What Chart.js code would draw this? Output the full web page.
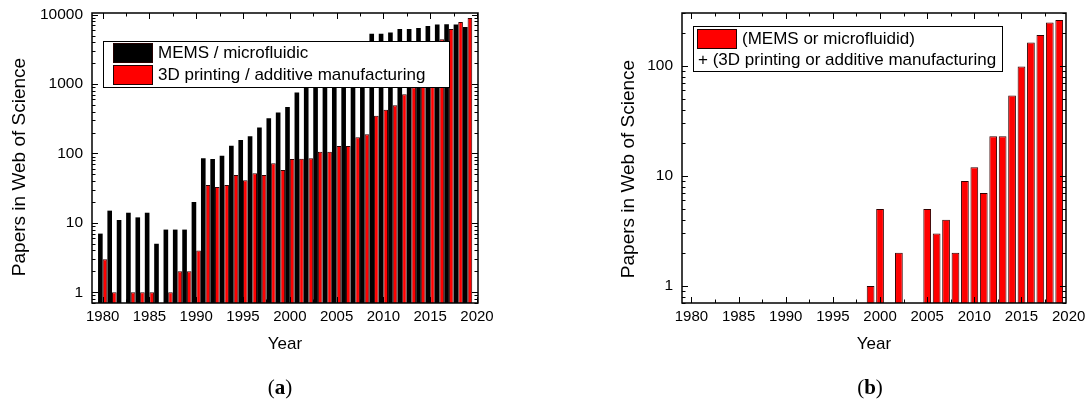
<!DOCTYPE html>
<html><head><meta charset="utf-8">
<script src="https://cdn.jsdelivr.net/npm/chart.js@4.4.1/dist/chart.umd.min.js"></script>
<style>
html,body{margin:0;padding:0;background:#fff;width:1089px;height:405px;overflow:hidden;}
#ca{position:absolute;left:0;top:0;}
#cb{position:absolute;left:545px;top:0;}
.cap{position:absolute;font-family:"Liberation Serif","DejaVu Serif",serif;font-size:21px;color:#000;transform:translateX(-50%);top:375px;line-height:24px;}
</style></head><body>
<canvas id="ca" width="545" height="405"></canvas>
<canvas id="cb" width="544" height="405"></canvas>
<div class="cap" style="left:280px">(<b>a</b>)</div>
<div class="cap" style="left:870px">(<b>b</b>)</div>
<script>
// ---- data ----
const years = [1980,1981,1982,1983,1984,1985,1986,1987,1988,1989,
               1990,1991,1992,1993,1994,1995,1996,1997,1998,1999,
               2000,2001,2002,2003,2004,2005,2006,2007,2008,2009,
               2010,2011,2012,2013,2014,2015,2016,2017,2018,2019];
const memsCounts = [7,15,11,14,12,14,5,8,8,8,
                    20,85,83,93,129,157,177,236,322,388,
                    468,755,1000,1250,1600,2000,2500,3000,3600,5300,
                    5300,5550,6200,6200,6450,6900,7250,7300,7250,6650];
const printCounts = [3,1,null,1,1,1,null,1,2,2,
                     4,35,33,35,49,41,52,49,72,58,
                     83,84,85,106,106,128,128,171,189,351,
                     425,497,716,904,1200,2400,4430,6200,7840,8960];
const bothCounts = [null,null,null,null,null,null,null,null,null,null,
                    null,null,null,null,null,null,null,null,null,1,
                    5,null,2,null,null,5,3,4,2,9,
                    12,7,23,23,54,99,163,191,248,262];
const seriesA = ['MEMS / microfluidic', '3D printing / additive manufacturing'];
const legendB = ['(MEMS or microfluidid)', '+ (3D printing or additive manufacturing'];
const xTickLabels = [1980,1985,1990,1995,2000,2005,2010,2015,2020];
const yTicksA = [1,10,100,1000,10000];
const yTicksB = [1,10,100];
const yTitle = 'Papers in Web of Science';
const xTitle = 'Year';

// ---- styling helpers ----
const FONT = '"Liberation Sans", Arial, sans-serif';
const RED = '#ff0000';

function line(ctx,x1,y1,x2,y2){ctx.beginPath();ctx.moveTo(x1,y1);ctx.lineTo(x2,y2);ctx.stroke();}

// shifts the y-axis box only while the axis (and its title) is painted,
// then restores it before the bars are drawn and clipped
const titleShift = {
  id:'titleShift',
  beforeDraw(chart, args, o){
    const y = chart.scales.y;
    y.top += o.dy; y.bottom += o.dy; chart.$shifted = true;
  },
  beforeDatasetsDraw(chart, args, o){
    if (chart.$shifted){
      const y = chart.scales.y;
      y.top -= o.dy; y.bottom -= o.dy; chart.$shifted = false;
    }
  }
};

const frameTicks = {
  id:'frameTicks',
  afterDatasetsDraw(chart){
    const {ctx, chartArea:{left,right,top,bottom}, scales:{x,y}} = chart;
    ctx.save();
    ctx.strokeStyle='#000'; ctx.lineWidth=1;
    const maj = 6, mnr = 3.5;
    const xt = xTickLabels;
    for (let i=0;i<xt.length;i++){
      const p = Math.round(x.getPixelForValue(xt[i]))+0.5;
      if (p>=left-0.5 && p<=right+0.5){ line(ctx,p,bottom,p,bottom-maj); line(ctx,p,top,p,top+maj); }
      if (i<xt.length-1){
        const q = Math.round(x.getPixelForValue((xt[i]+xt[i+1])/2))+0.5;
        if (q>=left && q<=right){ line(ctx,q,bottom,q,bottom-mnr); line(ctx,q,top,q,top+mnr); }
      }
    }
    for (let d=0.1; d<=y.max; d*=10){
      for (let k=1;k<=9;k++){
        const v = d*k;
        if (v<y.min || v>y.max) continue;
        const p = Math.round(y.getPixelForValue(v))+0.5;
        const len = k===1?maj:mnr;
        line(ctx,left,p,left+len,p); line(ctx,right,p,right-len,p);
      }
    }
    ctx.lineWidth=1.5;
    ctx.strokeRect(left,top,right-left,bottom-top);
    ctx.restore();
  }
};

const boxLegend = {
  id:'boxLegend',
  afterDraw(chart, args, o){
    const ctx = chart.ctx;
    ctx.save();
    ctx.fillStyle='#fff'; ctx.fillRect(o.x,o.y,o.w,o.h);
    ctx.strokeStyle='#000'; ctx.lineWidth=1;
    ctx.strokeRect(o.x+0.5,o.y+0.5,o.w,o.h);
    ctx.font = '17px '+FONT;
    ctx.textBaseline='middle'; ctx.textAlign='left';
    o.items.forEach(it=>{
      if (it.swatch){
        ctx.fillStyle=it.swatch; ctx.fillRect(it.sx,it.sy,40,20);
        ctx.strokeStyle='#200'; ctx.lineWidth=1; ctx.strokeRect(it.sx+0.5,it.sy+0.5,39,19);
      }
      ctx.fillStyle='#000';
      ctx.fillText(it.text,it.tx,it.ty);
    });
    ctx.restore();
  }
};

function xScale(min,max){
  return {
    type:'linear', min:min, max:max, offset:false,
    grid:{display:false, drawTicks:false}, border:{display:false},
    afterBuildTicks:s=>{s.ticks = xTickLabels.map(v=>({value:v}));},
    afterFit:s=>{s.height=52; s.paddingLeft=0; s.paddingRight=0;},
    ticks:{autoSkip:false, maxRotation:0, minRotation:0, padding:5, color:'#000',
           font:{family:FONT,size:15}, callback:v=>String(v)},
    title:{display:true, text:xTitle, color:'#000', font:{family:FONT,size:17}, padding:{top:0,bottom:0}}
  };
}
function yScale(min,max,ticks,width,tpad){
  return {
    type:'logarithmic', min:min, max:max,
    grid:{display:false, drawTicks:false}, border:{display:false},
    afterBuildTicks:s=>{s.ticks = ticks.map(v=>({value:v}));},
    afterFit:s=>{s.width=width; s.paddingTop=0; s.paddingBottom=0;},
    ticks:{autoSkip:false, padding:9, color:'#000', font:{family:FONT,size:15.5}, callback:v=>String(v)},
    title:{display:true, text:yTitle, color:'#000', font:{family:FONT,size:19}, padding:{top:tpad,bottom:0}}
  };
}

new Chart(document.getElementById('ca'), {
  type:'bar',
  data:{datasets:[
    {label:seriesA[0], data:years.map((yr,i)=>({x:yr,y:memsCounts[i]})),
     backgroundColor:'#000', borderColor:'#000', borderWidth:0,
     categoryPercentage:0.99, barPercentage:1.0},
    {label:seriesA[1], data:years.map((yr,i)=>({x:yr,y:printCounts[i]})),
     backgroundColor:RED, borderColor:'#300', borderWidth:1,
     categoryPercentage:0.99, barPercentage:1.0}
  ]},
  options:{
    responsive:false, animation:false, devicePixelRatio:1,
    layout:{padding:{left:0,right:67,top:13,bottom:50}},
    plugins:{legend:{display:false}, tooltip:{enabled:false},
      titleShift:{dy:9},
      boxLegend:{x:103,y:41,w:346,h:46,items:[
        {swatch:'#000', sx:113, sy:43, text:seriesA[0], tx:158, ty:53},
        {swatch:RED, sx:113, sy:65, text:seriesA[1], tx:158, ty:75}
      ]}},
    scales:{x:xScale(1978.86,2020.11), y:yScale(0.7,10580,yTicksA,92,8)}
  },
  plugins:[titleShift, frameTicks, boxLegend]
});

new Chart(document.getElementById('cb'), {
  type:'bar',
  data:{datasets:[
    {label:legendB.join(' '), data:years.map((yr,i)=>({x:yr,y:bothCounts[i]})),
     backgroundColor:RED, borderColor:'#300', borderWidth:1,
     categoryPercentage:1.0, barPercentage:0.82}
  ]},
  options:{
    responsive:false, animation:false, devicePixelRatio:1,
    layout:{padding:{left:0,right:23,top:13,bottom:50}},
    plugins:{legend:{display:false}, tooltip:{enabled:false},
      titleShift:{dy:11},
      boxLegend:{x:148,y:26,w:309,h:45,items:[
        {swatch:RED, sx:152, sy:29, text:legendB[0], tx:197, ty:39},
        {text:legendB[1], tx:153, ty:60}
      ]}},
    scales:{x:xScale(1979.0,2019.72), y:yScale(0.7,303,yTicksB,137,72.6)}
  },
  plugins:[titleShift, frameTicks, boxLegend]
});
</script>
</body></html>
